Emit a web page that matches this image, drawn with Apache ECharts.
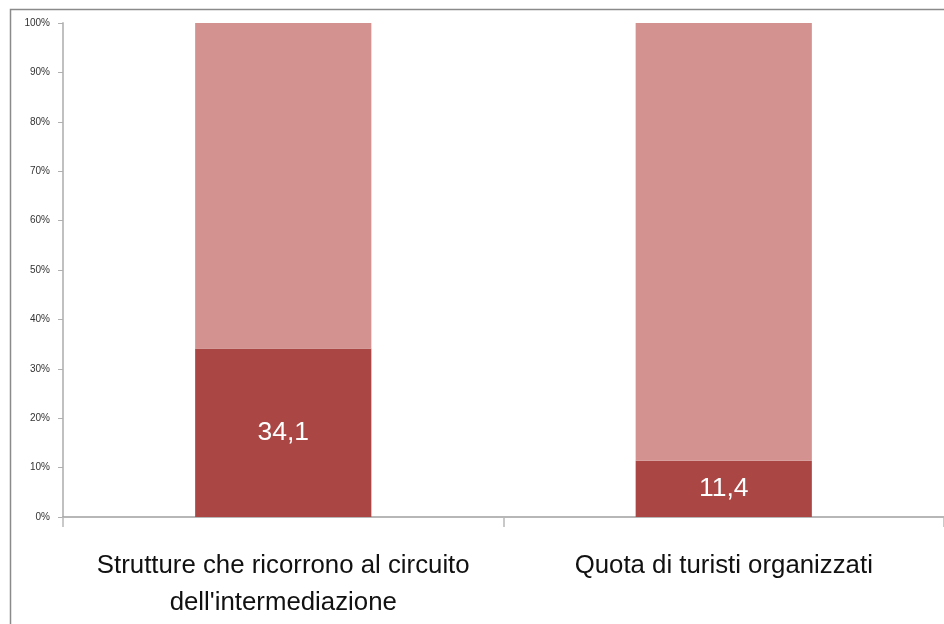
<!DOCTYPE html>
<html>
<head>
<meta charset="utf-8">
<script src="https://cdn.jsdelivr.net/npm/echarts@6/dist/echarts.min.js"></script>
<style>
html,body{margin:0;padding:0;background:#fff;}
#chart{width:944px;height:624px;}
</style>
</head>
<body>
<div id="chart"></div>
<script>
var categories = ["Strutture che ricorrono al circuito\ndell'intermediazione", "Quota di turisti organizzati"];
var shareYes = [34.1, 11.4];
var shareRest = [65.9, 88.6];
var yTicks = [0, 10, 20, 30, 40, 50, 60, 70, 80, 90, 100];

var chart = echarts.init(document.getElementById('chart'));
chart.setOption({
  animation: false,
  backgroundColor: '#fff',
  grid: {left: 63, right: 0, top: 23, bottom: 107, containLabel: false},
  graphic: [{
    type: 'rect', z: 100, silent: true,
    shape: {x: 10.5, y: 9.5, width: 1000, height: 1000},
    style: {fill: 'none', stroke: '#8a8a8a', lineWidth: 1.5}
  }],
  xAxis: {
    type: 'category',
    data: categories,
    axisLine: {lineStyle: {color: '#a0a0a0', width: 1.5}},
    axisTick: {show: true, length: 10, lineStyle: {color: '#b8b8b8', width: 1.5}},
    axisLabel: {
      color: '#111', fontSize: 25.8, fontFamily: 'Liberation Sans, Arial, sans-serif',
      lineHeight: 37, margin: 30, interval: 0
    }
  },
  yAxis: {
    type: 'value', min: 0, max: 100, interval: 10,
    axisLine: {show: true, lineStyle: {color: '#c0c0c0', width: 2}},
    axisTick: {show: true, length: 5, lineStyle: {color: '#b0b0b0'}},
    splitLine: {show: false},
    axisLabel: {
      color: '#333', fontSize: 10, fontFamily: 'Liberation Sans, Arial, sans-serif',
      margin: 13,
      formatter: function (v) { return yTicks.indexOf(v) >= 0 ? v + '%' : ''; }
    }
  },
  series: [
    {
      type: 'bar', stack: 'tot', data: shareYes, barWidth: '40%',
      itemStyle: {color: '#AA4644'},
      label: {
        show: true, position: 'inside', color: '#fff', fontSize: 26.5,
        fontFamily: 'Liberation Sans, Arial, sans-serif',
        formatter: function (p) { return String(p.value).replace('.', ','); }
      }
    },
    {
      type: 'bar', stack: 'tot', data: shareRest, barWidth: '40%',
      itemStyle: {color: '#D39190'}
    }
  ]
});
</script>
</body>
</html>
